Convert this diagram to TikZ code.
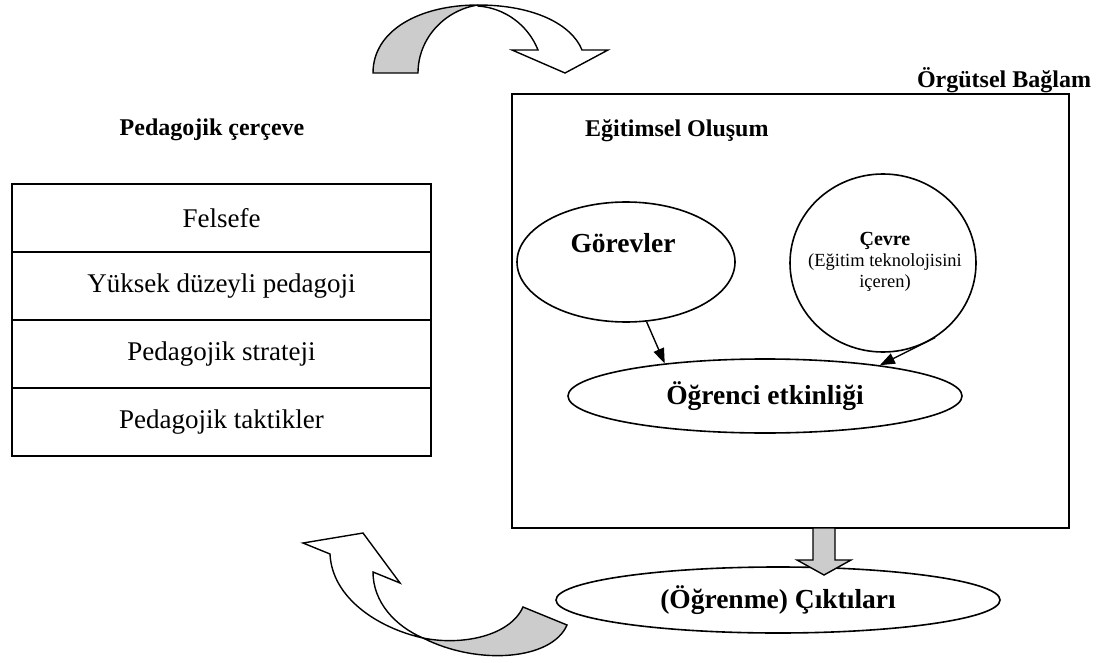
\documentclass[tikz,border=0pt]{standalone}
\usepackage{fontspec}
\setmainfont{Liberation Serif}
\usetikzlibrary{arrows.meta,shapes.geometric}
\begin{document}
\begin{tikzpicture}[x=1pt,y=-1pt,
  ell/.style={draw,ellipse,line width=1.6pt,inner sep=0pt},
  hd/.style={font=\fontsize{24}{28}\selectfont\bfseries,inner sep=0pt},
  cell/.style={draw,line width=1.6pt,minimum width=419pt,minimum height=68pt,inner sep=0pt,font=\fontsize{27}{32}\selectfont},
  elab/.style={font=\fontsize{27.5}{32}\selectfont\bfseries,inner sep=0pt},
  conn/.style={line width=1.4pt,-{Triangle[length=15pt,width=11pt]}},
  band/.style={draw,line width=1.4pt,line join=miter},
  grey/.style={fill=black!20}]
\useasboundingbox (0,0) rectangle (1110,663);

% top curved arrow
\draw[band,fill=white] (478,5) .. controls (535,5) and (572,25) .. (582,50) -- (608,50) -- (565,73) -- (512,50) -- (538,50) .. controls (528,25) and (505,8) .. (478,6) -- cycle;
\draw[band,grey] (373,73) .. controls (373,30) and (420,5) .. (478,5) .. controls (445,10) and (418,38) .. (418,73) -- cycle;

% headings
\node[hd] (org) at (1004,80) {Örgütsel Bağlam};
\node[hd] (ped) at (212,130) {Pedagojik çerçeve};

% table
\node[cell] (c1) at (221.5,218) {Felsefe};
\node[cell] (c2) at (221.5,286) {Yüksek düzeyli pedagoji};
\node[cell] (c3) at (221.5,354) {Pedagojik strateji};
\node[cell] (c4) at (221.5,422) {Pedagojik taktikler};

% main box
\node[draw,line width=1.6pt,minimum width=557pt,minimum height=434pt,inner sep=0pt] (box) at (790.5,311) {};
\node[hd,anchor=west] (egt) at (585,131) {Eğitimsel Oluşum};

% ellipses
\node[ell,minimum width=218pt,minimum height=120pt] (gor) at (626,262) {};
\node[elab] (gort) at (623,243) {Görevler};
\node[ell,minimum width=186pt,minimum height=178pt] (cev) at (883,263) {};
\node[align=center,inner sep=0pt,font=\fontsize{18.5}{21}\selectfont] (cevt) at (885,262) {{\fontsize{20}{21}\selectfont\bfseries Çevre}\\(Eğitim teknolojisini\\içeren)};
\node[ell,minimum width=394pt,minimum height=74pt,elab] (ogr) at (765,396) {Öğrenci etkinliği};
\node[ell,minimum width=444pt,minimum height=66pt,elab] (out) at (778,600) {(Öğrenme) Çıktıları};

% connectors
\draw[conn] (gor.-71) -- (ogr.162);
\draw[conn] (cev.-55) -- (ogr.15);

% block arrow down
\draw[band,grey] (813,528) -- (813,560) -- (797,560) -- (824,575) -- (851,560) -- (835,560) -- (835,528) -- cycle;

% bottom curved arrow
\draw[band,fill=white] (330,554) -- (303,543) -- (363,533) -- (400,583) -- (373,572) .. controls (373,602) and (395,626) .. (423,638) .. controls (378,628) and (332,598) .. (330,554) -- cycle;
\draw[band,grey] (423,638) .. controls (462,646) and (510,636) .. (523,607) -- (567,625) .. controls (552,660) and (478,666) .. (423,638) -- cycle;
\end{tikzpicture}
\end{document}
